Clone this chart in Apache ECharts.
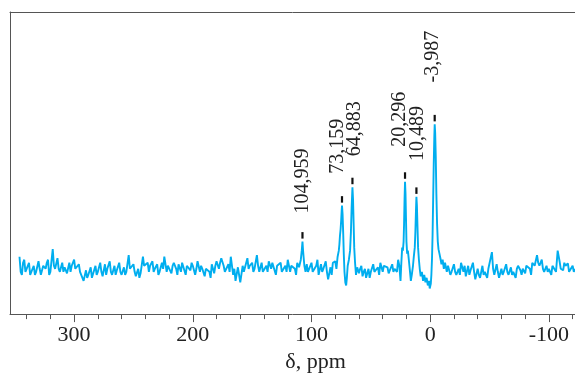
<!DOCTYPE html>
<html><head><meta charset="utf-8">
<script src="https://cdn.jsdelivr.net/npm/echarts@6/dist/echarts.min.js"></script>
<style>html,body{margin:0;padding:0;background:#fff}#c{width:575px;height:378px}</style>
</head><body><div id="c"></div>
<script>
// chemical shift (ppm), intensity (a.u.)
const spectrum = [
[346,19],[345,14],[344,13],[343,17],[342,18],[341,14],[340,15],[338,17],[337,13],[336,12.5],[334,16],[333,13],[332,14],[330,17.5],[329,15],[328,13],
[326,16],[324,15],[323,17],[322,18],[321,13],[320,14],[318,21.5],[317,16],[316,15],[314,18.5],[313,15],[312,14],[310,17],[309,14],[308,15.5],
[306,13.5],[304,17],[303,14],[302,16],[300,18],[299,15],[298,14.5],[296,16.5],[295,14],[294,13],[292,11],[290,14.5],[289,12],[288,13],
[286,15.5],[285,12],[284,12.5],[282,16],[281,13],[280,14],[278,17],[277,14],[276,12.5],[274,16.5],[273,13],[272,15],[270,17.5],[269,14],[268,13],
[266,16],[265,13],[264,14.5],[262,17],[261,14],[260,13],[258,15.5],[257,13],[256,14],[254,19.5],[253,15],[252,15],[250,16.5],[249,14],[248,12.5],
[246,15],[245,12],[244,13.5],[242,19],[241,16],[240,15.5],[238,17],[237,14],[236,16],[234,17.5],[233,14],[232,15],[230,16.5],[229,13],[228,14],
[226,17],[225,15],[224,19],[222,14],[221,16],[220,16],[218,13.5],[217,16],[216,17],[214,15],[213,13],[212,16.5],[210,14],[209,17],[208,17.5],
[206,13],[205,16],[204,15.5],[202,14.5],[201,17],[200,16],[198,13],[197,15],[196,17.5],[194,14],[193,16],[192,15],[190,12.5],[189,15],[188,15.5],
[186,14],[185,12],[184,16.5],[182,13.5],[181,16],[180,17.5],[178,15],[177,17],[176,18.5],[174,16],[173,14],[172,14],[170,16.5],[169,14],[168,19],
[166,13],[165,15],[164,11],[162,15.5],[161,13],[160,10.5],[158,16],[157,14],[156,14.5],[154,18.5],[153,15],[152,16],[150,17],[149,14],[148,15],
[146,19.5],[145,16],[144,14],[142,17],[141,14],[140,13.5],[138,16],[137,14],[136,17.5],[134,15],[133,17],[132,16.5],[130,13],[129,16],[128,15.5],
[126,17],[125,14],[124,14],[122,16],[121,14],[120,18],[118,14],[117,16],[116,16.5],[114,15],[113,13],[112,17],[110.5,15.5],[109,18],
[108.2,21],[107.6,24],[107,20.5],[106,16],[105,14],[104,16.5],[103,14],[102,15],[100,17],[99,14],[98,14.5],[96,16],[95,18],
[94,13],[92,16.5],[91,14],[90,15],[88,17.5],[87,14],[86,11.5],[84,15.5],[83,13],[82,17],[80,17.5],[79,15],[78,19],
[77,21],[76.5,23],[76,26],[75.5,28],[75,31],[74.6,34],[74.3,35.9],[73.8,33],[73.3,27],[72.8,20],
[72.2,14],[71.5,10.5],[70.8,9.5],[70.2,12],[69.5,16],[68.5,18],[67.5,21],[66.8,27],[66.2,35],[65.5,42],
[65,38],[64.5,30],[64,22],[63.3,17],[62.5,13],[61.5,15.5],[60,13.5],[59,15],[58,16],[57,12.5],[56,14],[55,15],[54,12],
[52,15],[51,12],[50,14],[48,16.5],[47,14],[46,13.5],[44,15.5],[43,13],[42,17],[40,14],[39,16],[38,16],[36,15.5],[35,13.5],[34,13],
[32,16.5],[31,14],[30,15],[28,14],[27,18],[26,16],[25,11],[24.3,17],[23.6,22],[23,21],[22.4,24],
[22,30],[21.6,38],[21.2,43.8],[20.8,40],[20.4,32],[20,24],[19.4,20],[18.8,21],[18,18],[17,14],
[16.3,11],[15.5,13],[14.5,16],[13.8,19],[13,22],[12.5,27],[12,34],[11.6,38.8],[11.2,36],[10.7,29],
[10.2,22],[9.5,18],[8.8,15],[8,12.5],[7,14],[6,11],[5,13],[4,10.5],[3,12],[2,9.5],
[1,11],[0.4,8.5],[-0.5,10],[-1,13],[-1.5,18],[-2,26],[-2.5,38],[-3,50],[-3.5,59],[-3.8,62.8],
[-4.2,60],[-4.7,52],[-5.2,40],[-5.8,30],[-6.4,24],[-7,21.5],[-7.8,20],[-8.6,18.5],[-9.5,16.5],[-10.5,18],
[-11.5,15],[-12.5,17],[-14,14],[-15,16],[-16,16.5],[-17,13],[-18,14],[-20,16.5],[-21,14],[-22,13],[-24,15],[-25,13],[-26,17],[-28,14],
[-29,16],[-30,12.5],[-32,16],[-33,13],[-34,14.5],[-36,17],[-37,14],[-38,11.5],[-40,15],[-41,13],[-42,12],[-44,16],[-45,13],[-46,14],[-48,12],
[-49,15],[-50,15.5],[-52,20.5],[-53,15],[-54,13],[-56,16.5],[-57,14],[-58,12],[-60,15],[-61,13],[-62,14],[-64,16.5],[-65,14],[-66,13],[-68,15.5],
[-69,13],[-70,14],[-72,12],[-73,15],[-74,16],[-76,14.5],[-77,13],[-78,15],[-80,13.5],[-81,16],[-82,16],[-84,15],[-85,13],[-86,17],[-88,16],
[-90,19.5],[-91,17],[-92,16],[-94,18],[-95,15],[-96,14],[-98,16],[-99,14],[-100,15],[-102,13],[-103,16],[-104,15.5],[-106,14],[-107.4,21],
[-109,17.5],[-110,15],[-112,14.5],[-113,17],[-114,16],[-116,16.8],[-117,14],[-118,13.5],[-120,16],[-121,14],[-122,15]
];
const peakShift  = [107.6, 74.3, 65.5, 21.2, 11.6, -3.8];
const peakHeight = [24, 35.9, 42, 43.8, 38.8, 62.8];
const peakLabels = ['104,959', '73,159', '64,883', '20,296', '10,489', '-3,987'];
const majorTicks = [300, 200, 100, 0, -100];
const minorTicks = [340, 320, 300, 280, 260, 240, 220, 200, 180, 160, 140, 120, 100, 80, 60, 40, 20, 0, -20, -40, -60, -80, -100, -120];

// label placement offsets in px (layout only)
const labelDx = [0, -4, 2, -5, 1, -2];
const labelDy = [-28, -32, -31, -35, -36, -42];

const FONT = '"Liberation Serif", "Times New Roman", serif';
const XMIN = -122, XMAX = 354;
const axisColor = '#555';

const chart = echarts.init(document.getElementById('c'));
chart.setOption({
  animation: false,
  backgroundColor: '#fff',
  grid: { left: 10, right: 0, top: 12, bottom: 62 },
  xAxis: [
    { type: 'value', inverse: true, min: XMIN, max: XMAX, position: 'bottom',
      axisLine: { show: true, onZero: false, lineStyle: { color: axisColor, width: 1 } },
      axisTick: { show: true, length: 5, customValues: minorTicks, lineStyle: { color: axisColor } },
      axisLabel: { show: false }, splitLine: { show: false } },
    { type: 'value', inverse: true, min: XMIN, max: XMAX, position: 'bottom',
      axisLine: { show: false, onZero: false },
      axisTick: { show: true, length: 8, customValues: majorTicks, lineStyle: { color: axisColor } },
      axisLabel: { show: true, customValues: majorTicks, fontFamily: FONT, fontSize: 22, color: '#222', margin: 10 },
      splitLine: { show: false },
      name: 'δ, ppm', nameLocation: 'middle', nameGap: 32,
      nameTextStyle: { fontFamily: FONT, fontSize: 22, color: '#222', padding: [0, 0, 0, 46] } },
    { type: 'value', min: XMIN, max: XMAX, position: 'top',
      axisLine: { show: true, onZero: false, lineStyle: { color: axisColor, width: 1 } },
      axisTick: { show: false }, axisLabel: { show: false }, splitLine: { show: false } }
  ],
  yAxis: { type: 'value', min: 0, max: 100, position: 'left',
    axisLine: { show: true, onZero: false, lineStyle: { color: axisColor, width: 1 } },
    axisTick: { show: false }, axisLabel: { show: false }, splitLine: { show: false } },
  series: [
    { type: 'line', xAxisIndex: 0, data: spectrum, showSymbol: false, symbol: 'none',
      lineStyle: { color: '#00AEEF', width: 1.9 }, z: 2 },
    { type: 'custom', xAxisIndex: 0, z: 3,
      data: peakShift.map((s, i) => [s, peakHeight[i]]),
      renderItem: function (params, api) {
        const i = params.dataIndex;
        const p = api.coord([api.value(0), api.value(1)]);
        return { type: 'group', children: [
          { type: 'rect', shape: { x: p[0] - 1.1, y: p[1] - 9.5, width: 2.2, height: 6.5 }, style: { fill: '#111' } },
          { type: 'text', x: p[0] + labelDx[i], y: p[1] + labelDy[i], rotation: Math.PI / 2,
            style: { text: peakLabels[i], font: '20px ' + FONT, fill: '#222', align: 'left', verticalAlign: 'middle' } }
        ]};
      } }
  ]
});
</script></body></html>
